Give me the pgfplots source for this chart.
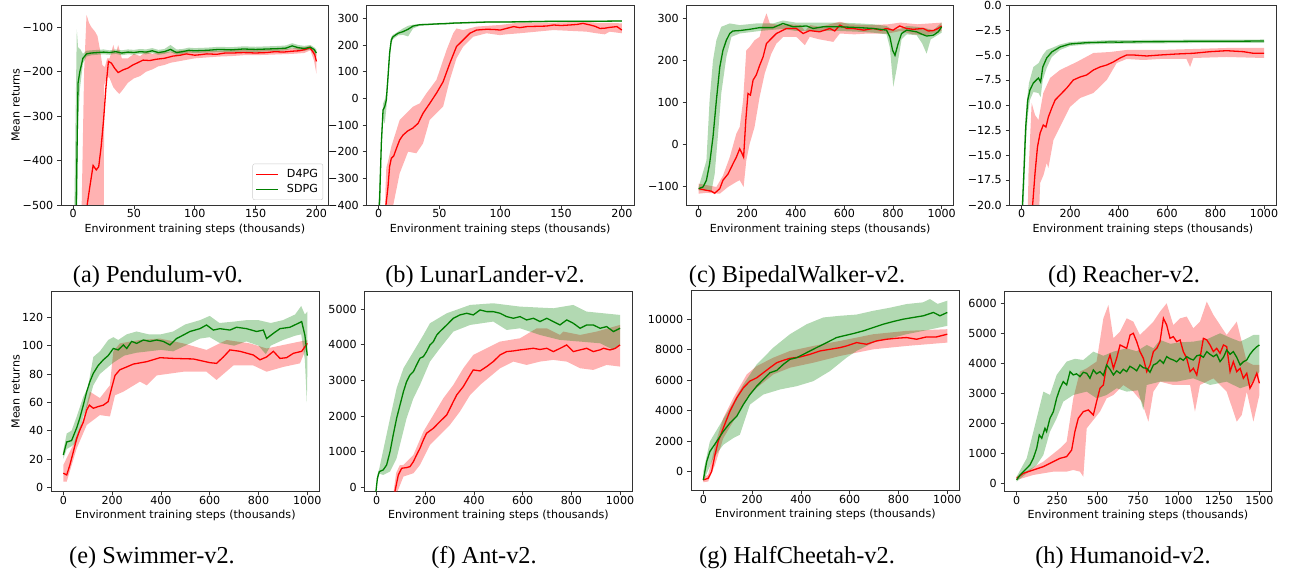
\documentclass[border=0pt]{standalone}
\usepackage{pgfplots}
\pgfplotsset{compat=1.18}
\usepgfplotslibrary{fillbetween}
\usepackage{fontspec}
\setmainfont{Liberation Serif}
\newfontfamily\dejavu{DejaVu Sans}
\newcommand\tickfont{\dejavu\fontsize{11.1}{13}\selectfont}
\newcommand\captfont{\fontsize{24.3}{28}\selectfont}

\definecolor{mred}{RGB}{255,0,0}
\definecolor{mgreen}{RGB}{0,128,0}

% band: colour, name, upper coords, lower coords
\newcommand{\band}[4]{%
  \addplot[draw=none, forget plot, name path=#2u] coordinates {#3};
  \addplot[draw=none, forget plot, name path=#2l] coordinates {#4};
  \addplot[fill=#1, fill opacity=0.3, draw=none, forget plot] fill between[of=#2u and #2l];
}

\pgfplotsset{
  panel/.style={
    scale only axis, height=200pt, anchor=south west,
    axis line style={black!80, line width=0.8pt},
    tick style={black!80, line width=0.8pt},
    tick align=outside, tick pos=left, major tick length=3.8pt,
    minor tick num=0, scaled ticks=false,
    ticklabel style={font=\tickfont},
    xticklabel style={anchor=base, inner sep=0pt, yshift=-8.7pt},
    yticklabel style={anchor=east, inner sep=0pt, xshift=-3.8pt},
    xlabel={Environment training steps (thousands)},
    xlabel style={font=\tickfont, at={(axis description cs:0.5,-0.1365)}, anchor=base},
    ylabel style={font=\tickfont},
  },
  redline/.style={mred, line width=1.3pt},
  greenline/.style={mgreen, line width=1.3pt},
}

\begin{document}
\begin{tikzpicture}

% (a) Pendulum
\begin{axis}[panel, at={(61pt,364pt)}, width=267.6pt,
  xmin=-10, xmax=210, ymin=-500, ymax=-50,
  xtick={0,50,100,150,200}, xticklabels={0,50,100,150,200},
  ytick={-500,-400,-300,-200,-100}, yticklabels={−500,−400,−300,−200,−100},
  ylabel={Mean returns},
  ylabel style={at={(axis description cs:-0.155,0.5)}, anchor=base, rotate=0},
  legend entries={D4PG,SDPG},
  legend style={at={(axis description cs:1,0)}, anchor=south east, xshift=-5.5pt, yshift=5pt,
    draw=black!20, rounded corners=2pt, font=\tickfont, inner xsep=3pt, inner ysep=3.5pt,
    column sep=6pt, row sep=1.5pt, cells={anchor=west}},
  legend image code/.code={\draw[line width=1.3pt, #1] (0pt,0pt) -- (22pt,0pt);}]
\addlegendimage{color=mred}
\addlegendimage{color=mgreen}
\band{mred}{ar}{(7,-500) (9,-200) (11,-72) (13,-90) (15,-100) (18,-110) (20,-120) (22,-150) (24,-185) (26,-190) (28,-170) (30,-170) (33,-140) (35,-160) (37,-140) (40,-170) (45,-170) (50,-160) (55,-165) (60,-155) (65,-160) (70,-158) (80,-155) (90,-152) (100,-155) (110,-153) (120,-153) (130,-152) (140,-150) (150,-152) (160,-150) (170,-150) (180,-148) (190,-145) (195,-142) (200,-160)}
{(7,-700) (25,-700) (25.5,-230) (28,-210) (30,-215) (33,-235) (36,-245) (38,-250) (41,-240) (45,-225) (50,-215) (55,-210) (60,-200) (65,-195) (70,-188) (75,-185) (80,-180) (90,-175) (100,-170) (110,-168) (120,-166) (130,-165) (140,-163) (150,-163) (160,-162) (170,-161) (180,-160) (190,-158) (195,-152) (198,-175) (200,-205)}
\addplot[redline, forget plot] coordinates {(7,-700) (11.5,-500) (13.7,-459) (16.4,-411) (19,-421) (21,-414) (23,-369) (25,-309) (27,-234) (29,-177) (31.5,-181) (34,-192) (37,-202) (41,-196) (45,-192) (49,-185) (53,-180) (57.5,-174) (63,-175) (68.5,-172) (75,-170) (82,-165) (88,-163) (93,-160) (100,-163) (104,-162) (110,-160) (118,-161) (125,-158) (131.5,-158) (140,-157) (150,-158) (159,-157) (166,-155) (172.6,-156) (180,-154) (186,-153) (191,-150) (194.5,-146) (197,-155) (198.6,-162) (200,-177)};
\band{mgreen}{ag}{(0,-700) (2,-300) (3,-105) (4,-145) (6,-150) (8,-160) (11,-153) (15,-152) (20,-151) (25,-150) (30,-152) (35,-150) (40,-152) (45,-150) (50,-151) (55,-149) (60,-150) (65,-147) (70,-151) (75,-149) (80,-140) (85,-150) (90,-149) (95,-146) (100,-147) (110,-146) (120,-144) (130,-145) (140,-143) (150,-144) (160,-143) (170,-142) (175,-141) (180,-136) (185,-140) (190,-142) (195,-140) (198,-145) (200,-150)}
{(0,-900) (3,-700) (4,-320) (5.5,-240) (8,-182) (11,-166) (15,-163) (20,-162) (25,-161) (30,-162) (35,-160) (40,-163) (45,-161) (50,-162) (55,-160) (60,-161) (65,-158) (70,-162) (75,-160) (80,-156) (85,-162) (90,-160) (95,-157) (100,-158) (110,-157) (120,-156) (130,-156) (140,-155) (150,-156) (160,-154) (170,-153) (175,-152) (180,-148) (185,-151) (190,-153) (195,-150) (198,-156) (200,-166)}
\addplot[greenline, forget plot] coordinates {(0,-900) (2.5,-500) (4,-226) (5.5,-200) (8,-170) (11,-160) (15,-158) (20,-157) (25,-156) (30,-157) (35,-155) (40,-158) (45,-156) (50,-157) (55,-155) (60,-156) (65,-153) (70,-157) (75,-155) (80,-150) (85,-157) (90,-155) (95,-152) (100,-153) (110,-152) (120,-150) (130,-151) (140,-149) (150,-150) (160,-149) (170,-148) (175,-147) (180,-142) (185,-146) (190,-148) (195,-145) (198,-150) (200,-158)};
\end{axis}

% (b) LunarLander
\begin{axis}[panel, at={(366.5pt,364pt)}, width=267.5pt,
  xmin=-10, xmax=210, ymin=-400, ymax=350,
  xtick={0,50,100,150,200}, xticklabels={0,50,100,150,200},
  ytick={-400,-300,-200,-100,0,100,200,300}, yticklabels={−400,−300,−200,−100,0,100,200,300}]
\band{mred}{br}{(4.5,-700) (5.5,-350) (6.3,-260) (8,-231) (10.4,-181) (17.3,-81) (22.8,-56) (28.3,-31) (33.8,-19) (39.3,19) (47.5,69) (55.8,181) (61.3,244) (64,262) (69.5,256) (80.5,269) (99.7,275) (116,284) (143.7,284) (171,287) (180,283) (190,283) (200,281)}
{(8,-700) (12,-400) (17.3,-281) (24.2,-200) (31,-206) (36.5,-169) (42,-81) (47.5,-56) (53,-31) (58.5,69) (64,150) (69.5,194) (77.7,231) (88.7,244) (99.7,237) (105,240) (116,244) (143.7,256) (171,250) (179,244) (186,240) (190,250) (200,244)}
\addplot[redline] coordinates {(5,-700) (6,-400) (7.7,-331) (9,-256) (10.4,-225) (12.4,-216) (14.6,-188) (17.3,-156) (20,-138) (24,-122) (28,-112) (32.4,-94) (36.5,-56) (42,-19) (47.5,19) (53,62) (58.5,131) (64,194) (69.5,219) (75,244) (80.5,256) (89,259) (95,258) (100,256) (105,262) (111,269) (116,265) (122,269) (130,270) (138,271) (144,275) (150,273) (157,275) (163,277) (168,281) (174,275) (178,270) (182,262) (186,263) (190,266) (196,269) (200,256)};
\band{mgreen}{bg}{(0,-380) (2.2,-140) (3.6,-20) (5,-5) (6.3,20) (7.7,110) (9,190) (10.4,230) (11.8,238) (16,250) (20,262) (24.2,272) (28.3,276) (33.8,279) (40,280) (47.5,282) (61.3,285) (88.7,289) (116,290) (143.7,291) (200,292)}
{(0,-700) (2.2,-200) (3.6,-80) (5,-94) (6.3,-40) (7.7,50) (9,140) (10.4,205) (11.8,222) (16,236) (20,238) (24.2,232) (28.3,262) (33.8,272) (40,274) (47.5,276) (61.3,279) (88.7,283) (116,284) (143.7,286) (200,287)}
\addplot[greenline] coordinates {(0,-420) (0.8,-381) (2.2,-169) (3.6,-44) (5,-31) (6.3,-6) (7.7,81) (9,169) (10.4,219) (11.8,231) (16,244) (20,250) (24.2,259) (28.3,271) (33.8,276) (40,277) (47.5,279) (55,280) (61.3,282) (75,284) (88.7,286) (100,286) (116,287) (130,288) (143.7,289) (160,289) (180,289) (200,290)};
\end{axis}

% (c) BipedalWalker
\begin{axis}[panel, at={(686.5pt,364pt)}, width=267.3pt,
  xmin=-50, xmax=1050, ymin=-145, ymax=332,
  xtick={0,200,400,600,800,1000}, xticklabels={0,200,400,600,800,1000},
  ytick={-100,0,100,200,300}, yticklabels={−100,0,100,200,300}]
\band{mred}{cr}{(0,-94) (73,-102) (100,-75) (128,-31) (155,25) (169,41) (183,105) (196,224) (210,232) (230,248) (251,256) (265,290) (279,312) (293,288) (334,284) (375,286) (420,284) (437,270) (460,284) (500,280) (540,286) (581,292) (620,286) (700,284) (780,286) (830,290) (900,286) (1000,290)}
{(0,-118) (32,-116) (87,-118) (121,-102) (155,-90) (169,-86) (185,-102) (196,-39) (210,1) (230,41) (251,113) (272,169) (299,216) (320,240) (348,256) (402,256) (437,236) (457,256) (498,250) (554,244) (581,264) (640,262) (700,264) (780,264) (830,270) (880,262) (940,260) (1000,270)}
\addplot[redline] coordinates {(0,-106) (32,-110) (52,-112) (66,-117) (87,-106) (100,-86) (121,-71) (141,-47) (155,-31) (169,-11) (176,-19) (185,-31) (194,57) (203,121) (213,117) (224,153) (237,165) (251,188) (265,208) (279,240) (299,252) (320,264) (334,268) (361,276) (402,276) (430,264) (457,271) (498,268) (540,276) (560,270) (581,284) (610,276) (636,276) (680,272) (718,276) (750,272) (773,276) (800,272) (827,282) (855,276) (883,274) (924,276) (945,270) (966,271) (985,276) (1000,282)};
\band{mgreen}{cg}{(0,-102) (32,-39) (45,105) (59,200) (73,248) (93,280) (128,288) (169,284) (237,288) (306,288) (347,295) (400,290) (500,290) (581,290) (663,288) (718,286) (773,282) (800,272) (835,276) (856,282) (897,280) (938,276) (966,272) (1000,290)}
{(0,-110) (32,-110) (52,-114) (66,-71) (80,25) (93,121) (114,208) (135,256) (169,264) (251,270) (347,275) (400,270) (500,270) (581,270) (663,268) (718,266) (773,262) (787,230) (801,137) (815,180) (835,250) (856,262) (897,260) (920,240) (938,216) (955,250) (1000,266)}
\addplot[greenline] coordinates {(0,-106) (18,-102) (32,-86) (45,-47) (59,17) (73,105) (87,184) (100,224) (114,248) (128,264) (141,270) (169,271) (210,274) (251,278) (306,278) (347,288) (389,280) (444,282) (471,276) (512,280) (581,280) (663,278) (718,276) (773,272) (787,256) (798,224) (808,212) (821,240) (835,264) (856,272) (897,268) (920,262) (938,258) (966,260) (986,268) (1000,280)};
\end{axis}

% (d) Reacher
\begin{axis}[panel, at={(1009.6pt,364pt)}, width=266.5pt,
  xmin=-50, xmax=1050, ymin=-20, ymax=0,
  xtick={0,200,400,600,800,1000}, xticklabels={0,200,400,600,800,1000},
  ytick={-20,-17.5,-15,-12.5,-10,-7.5,-5,-2.5,0},
  yticklabels={−20.0,−17.5,−15.0,−12.5,−10.0,−7.5,−5.0,−2.5,0.0}]
\band{mred}{dr}{(25,-20.5) (28,-16.8) (35,-13) (41,-9.8) (55,-11) (69,-11.5) (89,-8.8) (117,-7.3) (158,-6.5) (227,-5.7) (296,-4.8) (365,-4.7) (433,-4.5) (571,-4.5) (708,-4.4) (846,-4.3) (1000,-4.3)}
{(30,-24) (70,-22) (76,-17.8) (90,-17) (103,-15.8) (110,-16.3) (131,-13.5) (158,-12.2) (199,-10.2) (241,-9.3) (296,-8.8) (351,-7.5) (392,-5.8) (433,-5.4) (502,-5.5) (571,-5.4) (680,-5.4) (695,-6.2) (708,-5.3) (846,-5.2) (1000,-5.3)}
\addplot[redline] coordinates {(40,-24) (45,-20) (55,-16.8) (65,-14.2) (76,-12.8) (89,-12) (100,-12.2) (110,-11.2) (124,-10.3) (138,-9.5) (158,-9.0) (186,-8.3) (213,-7.5) (241,-7.2) (268,-7.0) (296,-6.5) (323,-6.2) (351,-6.0) (378,-5.7) (406,-5.3) (433,-5.0) (461,-5.0) (516,-5.1) (571,-5.0) (640,-4.9) (708,-4.83) (777,-4.67) (846,-4.57) (915,-4.67) (956,-4.83) (1000,-4.83)};
\band{mgreen}{dg}{(0,-22) (10,-14) (20,-9.8) (30,-7.8) (48,-6.2) (70,-5.8) (87,-5.0) (103,-4.5) (124,-4.3) (158,-3.95) (199,-3.7) (268,-3.6) (365,-3.52) (502,-3.5) (708,-3.47) (1000,-3.45)}
{(0,-26) (5,-22) (16.5,-14) (25,-11) (34,-9.5) (48,-8.7) (69,-8.8) (78,-9.2) (87,-7.5) (103,-6.3) (124,-5.2) (158,-4.5) (199,-4.1) (268,-3.95) (365,-3.88) (502,-3.85) (708,-3.8) (1000,-3.78)}
\addplot[greenline] coordinates {(0,-24) (3,-20) (10,-16.2) (16.5,-12.2) (25,-9.5) (34,-8.5) (48,-7.8) (69,-7.3) (78,-7.7) (87,-6.2) (103,-5.3) (124,-4.7) (158,-4.2) (199,-3.9) (268,-3.77) (300,-3.75) (365,-3.7) (400,-3.72) (502,-3.67) (600,-3.66) (708,-3.63) (800,-3.62) (900,-3.62) (1000,-3.6)};
\end{axis}

% (e) Swimmer
\begin{axis}[panel, at={(51.1pt,77.3pt)}, width=268.4pt,
  xmin=-50, xmax=1050, ymin=-3.1, ymax=138.1,
  xtick={0,200,400,600,800,1000}, xticklabels={0,200,400,600,800,1000},
  ytick={0,20,40,60,80,100,120}, yticklabels={0,20,40,60,80,100,120},
  ylabel={Mean returns},
  ylabel style={at={(axis description cs:-0.1174,0.5)}, anchor=base, rotate=0}]
\band{mred}{er}{(0,15.8) (41,30) (82,48.7) (109,67.5) (150,63) (191,72) (205,96) (232,101.6) (314,104) (396,105) (492,101.6) (587,97) (669,104) (765,101.6) (833,98) (902,100.5) (1000,104)}
{(0,4) (14,4) (55,27.5) (96,44) (150,51) (191,50) (212,65) (246,67.5) (314,74.6) (342,72) (383,79) (492,81.6) (587,81.6) (628,75.8) (697,86) (779,86) (833,81.6) (902,85) (970,87.5) (1000,100)}
\addplot[redline] coordinates {(0,10) (14,8.7) (27,15.8) (41,25) (55,34.6) (68,40.5) (82,46) (96,54.6) (107,58) (123,55.8) (143,57) (164,58) (184,60.5) (198,70) (212,79) (232,83) (260,85) (287,87) (342,88.7) (396,91.5) (451,91) (533,90.6) (601,88) (628,87.5) (656,92) (683,97) (724,96) (779,93.4) (806,90) (833,92) (861,96) (888,91) (915,91.5) (943,94.6) (977,96) (1000,101.6)};
\band{mgreen}{eg}{(0,26) (14,38) (34,40) (55,50) (82,64) (100,70) (123,92) (150,96) (184,104) (205,106) (225,104) (260,108) (300,110) (350,108) (400,108) (450,110) (500,115) (560,118) (600,121) (640,116) (700,117) (750,118) (800,118) (850,116) (900,118) (950,122) (975,128) (990,122) (1000,124)}
{(0,20) (14,27) (34,29) (55,32) (82,50) (100,58) (123,72) (150,80) (184,85) (205,88) (250,93) (300,95) (350,96) (400,97) (450,96) (500,100) (560,105) (600,106) (640,102) (700,100) (750,103) (800,100) (830,94) (850,100) (900,104) (950,107) (975,108) (990,90) (998,60) (1000,80)}
\addplot[greenline] coordinates {(0,22.8) (14,32) (34,33) (55,42) (68,49) (82,58) (96,67.5) (109,74.6) (123,80.5) (143,86) (164,90) (184,93) (205,98) (225,97) (246,100.5) (260,98) (280,103) (301,101.6) (328,104) (355,103) (383,104) (410,103) (437,100.5) (464,105) (492,107.5) (519,110) (560,112) (587,114.6) (615,111) (642,112) (683,111) (710,113) (751,112) (792,110) (820,111) (833,105) (861,108.7) (888,112) (929,113) (963,115.8) (977,117) (990,107.5) (1000,93)};
\end{axis}

% (f) Ant
\begin{axis}[panel, at={(364.5pt,77.3pt)}, width=267.7pt,
  xmin=-50, xmax=1050, ymin=-125, ymax=5494,
  xtick={0,200,400,600,800,1000}, xticklabels={0,200,400,600,800,1000},
  ytick={0,1000,2000,3000,4000,5000}, yticklabels={0,1000,2000,3000,4000,5000}]
\band{mred}{fr}{(68,-200) (80,400) (95,620) (110,627) (151,908) (192,1564) (233,2032) (274,2500) (315,2875) (356,3343) (397,3717) (452,3904) (507,4092) (589,4185) (658,4466) (699,4466) (753,4279) (767,4373) (836,4279) (904,4373) (1000,4560)}
{(75,-300) (110,300) (151,393) (178,627) (219,1189) (260,1470) (301,1751) (342,2125) (384,2594) (425,2875) (466,3109) (507,3343) (562,3530) (616,3436) (671,3530) (726,3577) (781,3530) (836,3343) (890,3296) (945,3436) (1000,3390)}
\addplot[redline] coordinates {(75,-120) (89,346) (103,534) (123,552) (137,580) (151,721) (164,908) (178,1095) (192,1330) (205,1517) (233,1657) (260,1845) (288,2032) (315,2406) (329,2594) (356,2828) (384,3155) (397,3296) (425,3268) (452,3390) (479,3530) (507,3717) (534,3811) (562,3830) (589,3858) (616,3880) (644,3904) (671,3870) (699,3904) (726,3811) (753,3900) (781,3998) (808,3811) (836,3858) (863,3904) (890,3811) (918,3860) (932,3904) (959,3858) (980,3900) (1000,3998)};
\band{mgreen}{fg}{(-3,-100) (3,350) (11,534) (55,1938) (82,2781) (110,3343) (151,3811) (192,4279) (219,4607) (288,4888) (384,5122) (479,5169) (589,5075) (726,5028) (808,5122) (863,4934) (1000,4841)}
{(-3,-200) (3,150) (11,380) (27,346) (55,440) (82,815) (123,1938) (151,2500) (178,2875) (219,3530) (260,3904) (315,4373) (384,4560) (479,4654) (534,4419) (589,4466) (671,4279) (753,4139) (836,4092) (918,4045) (973,3858) (1000,3998)}
\addplot[greenline] coordinates {(-3,-120) (3,253) (11,440) (27,487) (41,627) (55,1002) (68,1470) (82,1938) (96,2313) (110,2687) (123,2968) (137,3155) (151,3249) (164,3436) (178,3624) (192,3670) (205,3811) (219,3998) (233,4092) (247,4279) (260,4373) (288,4560) (315,4747) (342,4841) (370,4888) (397,4841) (425,4981) (452,4934) (479,4934) (507,4888) (534,4794) (562,4747) (589,4794) (616,4700) (644,4747) (671,4654) (699,4747) (726,4654) (753,4560) (781,4700) (808,4607) (836,4466) (863,4560) (890,4560) (918,4466) (945,4513) (973,4373) (1000,4466)};
\end{axis}

% (g) HalfCheetah
\begin{axis}[panel, at={(691.1pt,78.3pt)}, width=268.4pt,
  xmin=-50, xmax=1050, ymin=-1253, ymax=11866,
  xtick={0,200,400,600,800,1000}, xticklabels={0,200,400,600,800,1000},
  ytick={0,2000,4000,6000,8000,10000}, yticklabels={0,2000,4000,6000,8000,10000}]
\band{mred}{gr}{(0,-400) (20,-200) (34,700) (48,1758) (82,3516) (123,4835) (178,6374) (219,6923) (287,7473) (355,7912) (451,8242) (560,8571) (697,9011) (833,9231) (1000,9341)}
{(0,-700) (20,-650) (48,440) (82,2198) (123,3297) (178,4835) (219,5495) (287,6374) (355,6813) (451,7143) (560,7582) (697,8022) (833,8242) (1000,8462)}
\addplot[redline] coordinates {(0,-549) (20,-440) (34,0) (48,1099) (61,1978) (82,2857) (109,3956) (137,4835) (164,5495) (191,5934) (219,6154) (246,6484) (273,6813) (301,7143) (328,7297) (355,7429) (396,7516) (437,7692) (478,7912) (519,8022) (560,8132) (587,8242) (628,8462) (669,8352) (710,8571) (751,8681) (792,8747) (833,8791) (874,8681) (915,8835) (956,8835) (1000,9011)};
\band{mgreen}{gg}{(0,0) (27,1978) (68,3077) (109,4176) (164,5714) (219,7033) (287,8132) (355,9011) (424,9670) (492,10110) (560,10220) (628,10300) (697,10549) (765,10750) (833,10989) (900,11100) (929,11319) (960,11000) (1000,11209)}
{(0,-659) (41,879) (82,1758) (123,2198) (150,2418) (191,4396) (246,5055) (314,5385) (383,5604) (451,5934) (519,6593) (587,7473) (628,7912) (697,8462) (779,8791) (833,9011) (902,9231) (1000,9560)}
\addplot[greenline] coordinates {(0,-549) (14,659) (27,1318) (55,1978) (82,2637) (109,3187) (137,3626) (164,4396) (191,5055) (219,5604) (246,6044) (273,6484) (301,6637) (328,7033) (355,7363) (383,7473) (410,7692) (437,7912) (464,8132) (492,8352) (519,8571) (546,8791) (574,8901) (615,9055) (656,9231) (697,9451) (738,9670) (779,9846) (820,10000) (861,10110) (902,10220) (943,10440) (970,10220) (1000,10440)};
\end{axis}

% (h) Humanoid
\begin{axis}[panel, at={(1004.5pt,77.3pt)}, width=267pt,
  xmin=-75, xmax=1575, ymin=-280, ymax=6387,
  xtick={0,250,500,750,1000,1250,1500}, xticklabels={0,250,500,750,1000,1250,1500},
  ytick={0,1000,2000,3000,4000,5000,6000}, yticklabels={0,1000,2000,3000,4000,5000,6000}]
\band{mred}{hr}{(0,222) (165,722) (268,1167) (309,1389) (350,2833) (391,3722) (433,3833) (494,4056) (536,5500) (567,5944) (598,4833) (639,5056) (680,5500) (721,5389) (762,4944) (804,5167) (845,5389) (886,5722) (927,6000) (968,5278) (1010,5500) (1051,5556) (1092,5167) (1133,5389) (1175,6056) (1216,5611) (1257,5278) (1298,4944) (1360,5389) (1422,4056) (1463,3944) (1500,3944)}
{(0,111) (103,278) (227,389) (309,389) (350,444) (391,389) (412,222) (433,1833) (515,2389) (556,2833) (598,2944) (659,3278) (721,3056) (773,2722) (814,2056) (845,3056) (886,3389) (968,3278) (1072,3278) (1102,2389) (1133,3278) (1216,3500) (1298,3056) (1360,2056) (1391,2278) (1422,3056) (1463,2056) (1500,2944)}
\addplot[redline] coordinates {(0,167) (41,333) (103,444) (165,556) (227,722) (268,833) (309,889) (340,1111) (360,1722) (381,2167) (412,2389) (443,2444) (474,2278) (494,2722) (515,3167) (536,3278) (556,3944) (577,4278) (598,3833) (618,4167) (639,4611) (659,4556) (680,4500) (701,4944) (721,5000) (742,4722) (762,4389) (783,4167) (804,3722) (824,3944) (845,4389) (866,4500) (886,4722) (907,5500) (927,5278) (948,4833) (968,4889) (989,4722) (1010,4778) (1030,4389) (1051,4167) (1072,3722) (1092,3833) (1113,3611) (1133,4167) (1154,4833) (1175,4778) (1195,4611) (1216,4389) (1236,4500) (1257,4333) (1278,4611) (1298,4556) (1319,3722) (1339,4056) (1360,3722) (1381,3833) (1401,3500) (1422,3667) (1442,3167) (1463,3389) (1484,3667) (1500,3333)};
\band{mgreen}{hg}{(0,222) (62,833) (124,2167) (165,3056) (206,2944) (247,3611) (309,4056) (360,4150) (412,4111) (474,4389) (536,4250) (598,4389) (680,4500) (742,4400) (804,4611) (845,4500) (886,4778) (950,4650) (1010,4700) (1092,4722) (1175,4800) (1257,5000) (1320,4850) (1381,4722) (1430,4850) (1463,4944) (1500,4944)}
{(0,56) (62,333) (124,611) (165,944) (206,1722) (247,2167) (288,2722) (350,2944) (433,3056) (494,2833) (556,2944) (618,3167) (680,3056) (750,3100) (783,2444) (804,3278) (886,3389) (989,3389) (1092,3500) (1195,3278) (1298,3389) (1381,3167) (1442,3278) (1500,3722)}
\addplot[greenline] coordinates {(0,111) (21,278) (52,444) (82,611) (103,833) (124,1167) (140,1611) (155,1500) (175,1833) (185,1722) (206,2167) (227,2389) (247,2833) (268,3167) (288,3389) (309,3278) (330,3722) (350,3611) (370,3650) (391,3556) (412,3700) (433,3667) (453,3500) (474,3778) (494,3650) (515,3722) (536,3600) (556,3944) (577,3800) (598,3611) (618,3750) (639,3667) (659,3800) (680,3722) (700,3900) (721,3833) (742,3750) (762,3944) (783,3850) (804,3833) (824,3700) (845,3944) (866,4000) (886,4111) (907,4000) (927,4222) (948,4150) (968,4111) (989,4050) (1010,4167) (1030,4100) (1051,4222) (1072,4150) (1092,4111) (1113,4250) (1133,4278) (1154,4200) (1175,4389) (1195,4300) (1216,4222) (1236,4300) (1257,4056) (1278,4200) (1298,4444) (1319,4300) (1339,4389) (1360,4200) (1381,3944) (1401,4050) (1422,4111) (1442,4300) (1463,4444) (1484,4550) (1500,4611)};
\end{axis}

% captions
\node[anchor=base, font=\captfont] at (158pt,286pt) {(a) Pendulum-v0.};
\node[anchor=base, font=\captfont] at (485pt,286pt) {(b) LunarLander-v2.};
\node[anchor=base, font=\captfont] at (797pt,286pt) {(c) BipedalWalker-v2.};
\node[anchor=base, font=\captfont] at (1124pt,286pt) {(d) Reacher-v2.};
\node[anchor=base, font=\captfont] at (152pt,5.5pt) {(e) Swimmer-v2.};
\node[anchor=base, font=\captfont] at (484pt,5.5pt) {(f) Ant-v2.};
\node[anchor=base, font=\captfont] at (797pt,5.5pt) {(g) HalfCheetah-v2.};
\node[anchor=base, font=\captfont] at (1123pt,5.5pt) {(h) Humanoid-v2.};

\pgfresetboundingbox
\path[use as bounding box] (0pt,0pt) rectangle (1293pt,569pt);
\end{tikzpicture}
\end{document}
